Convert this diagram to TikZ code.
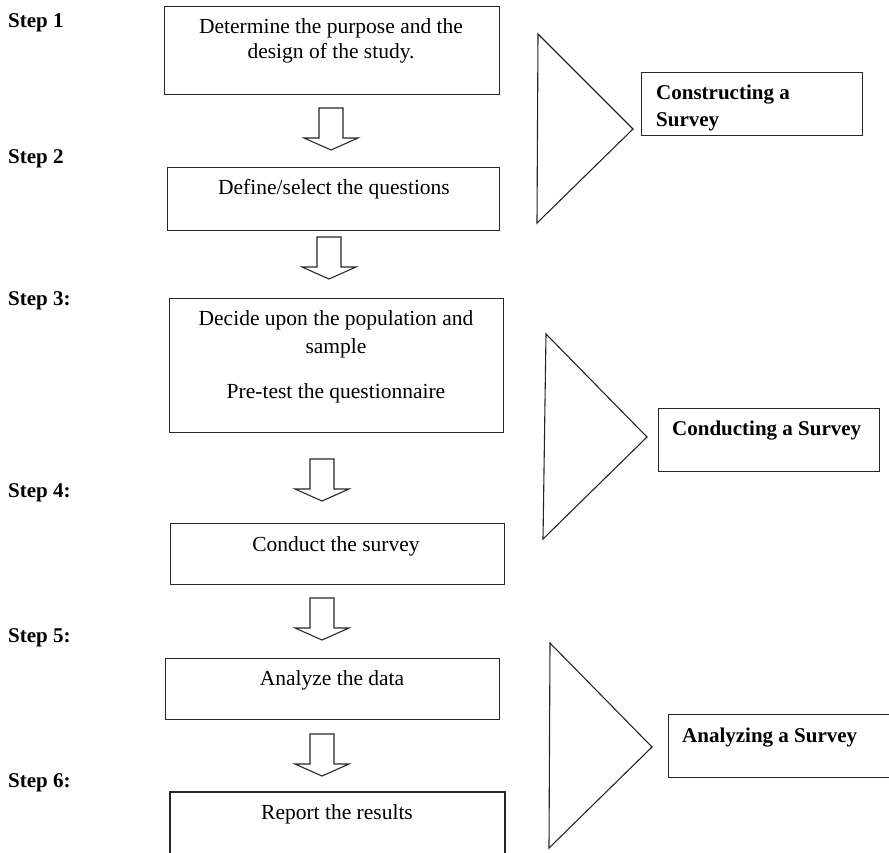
\documentclass[tikz,border=0pt]{standalone}
\usepackage{fontspec}
\setmainfont{Liberation Serif}
\begin{document}
\begin{tikzpicture}[x=1pt,y=-1pt,
  box/.style={draw=black!85, line width=1.2pt, anchor=north west, inner sep=0pt},
  btext/.style={anchor=base, inner sep=0pt, font=\fontsize{21.5}{26}\selectfont},
  steplabel/.style={anchor=base west, inner sep=0pt, font=\fontsize{21}{25}\selectfont\bfseries},
  phase/.style={anchor=base west, inner sep=0pt, font=\fontsize{21}{25}\selectfont\bfseries},
  tri/.style={draw=black!85, line width=1.1pt, line join=miter},
  blockarrow/.pic={\draw[line width=1.1pt, black!85] (-12,0) -- (12,0) -- (12,30) -- (27,30) -- (0,42) -- (-27,30) -- (-12,30) -- cycle;}
]
\useasboundingbox (0,0) rectangle (889,852);

% step labels
\node[steplabel] (s1) at (8,27) {Step 1};
\node[steplabel] (s2) at (8,163) {Step 2};
\node[steplabel] (s3) at (8,305) {Step 3:};
\node[steplabel] (s4) at (8,497) {Step 4:};
\node[steplabel] (s5) at (8,642) {Step 5:};
\node[steplabel] (s6) at (8,787) {Step 6:};

% boxes
\node[box, minimum width=335pt, minimum height=88pt] (b1) at (164,6) {};
\node[btext] (t1a) at (331,33) {Determine the purpose and the};
\node[btext] (t1b) at (331,58) {design of the study.};

\node[box, minimum width=332pt, minimum height=63pt] (b2) at (167,167) {};
\node[btext] (t2) at (334,194) {Define/select the questions};

\node[box, minimum width=334pt, minimum height=134pt] (b3) at (169,298) {};
\node[btext] (t3a) at (336,325) {Decide upon the population and};
\node[btext] (t3b) at (336,353) {sample};
\node[btext] (t3c) at (336,398) {Pre-test the questionnaire};

\node[box, minimum width=334pt, minimum height=61pt] (b4) at (170,523) {};
\node[btext] (t4) at (336,551) {Conduct the survey};

\node[box, minimum width=334pt, minimum height=61pt] (b5) at (165,658) {};
\node[btext] (t5) at (332,685) {Analyze the data};

\draw[line width=1.2pt, black!85] (170,860) -- (170,792) -- (505,792) -- (505,860);
\coordinate (b6) at (337,792);
\node[btext] (t6) at (337,819) {Report the results};

% block arrows
\pic at (331,108) {blockarrow};
\pic at (329,237) {blockarrow};
\pic at (322,459) {blockarrow};
\pic at (322,598) {blockarrow};
\pic at (322,734) {blockarrow};

% triangles
\draw[tri] (538,34) -- (633,129) -- (537,223) -- cycle;
\draw[tri] (546,334) -- (647,437) -- (543,539) -- cycle;
\draw[tri] (550,643) -- (652,747) -- (549,848) -- cycle;

% phase boxes
\node[box, minimum width=221pt, minimum height=63pt] (p1) at (641,72) {};
\node[phase] (p1a) at (656,99) {Constructing a};
\node[phase] (p1b) at (656,126) {Survey};

\node[box, minimum width=221pt, minimum height=63pt] (p2) at (658,408) {};
\node[phase] (p2a) at (672,435) {Conducting a Survey};

\node[box, minimum width=221pt, minimum height=63pt] (p3) at (668,714) {};
\node[phase] (p3a) at (682,742) {Analyzing a Survey};
\end{tikzpicture}
\end{document}
